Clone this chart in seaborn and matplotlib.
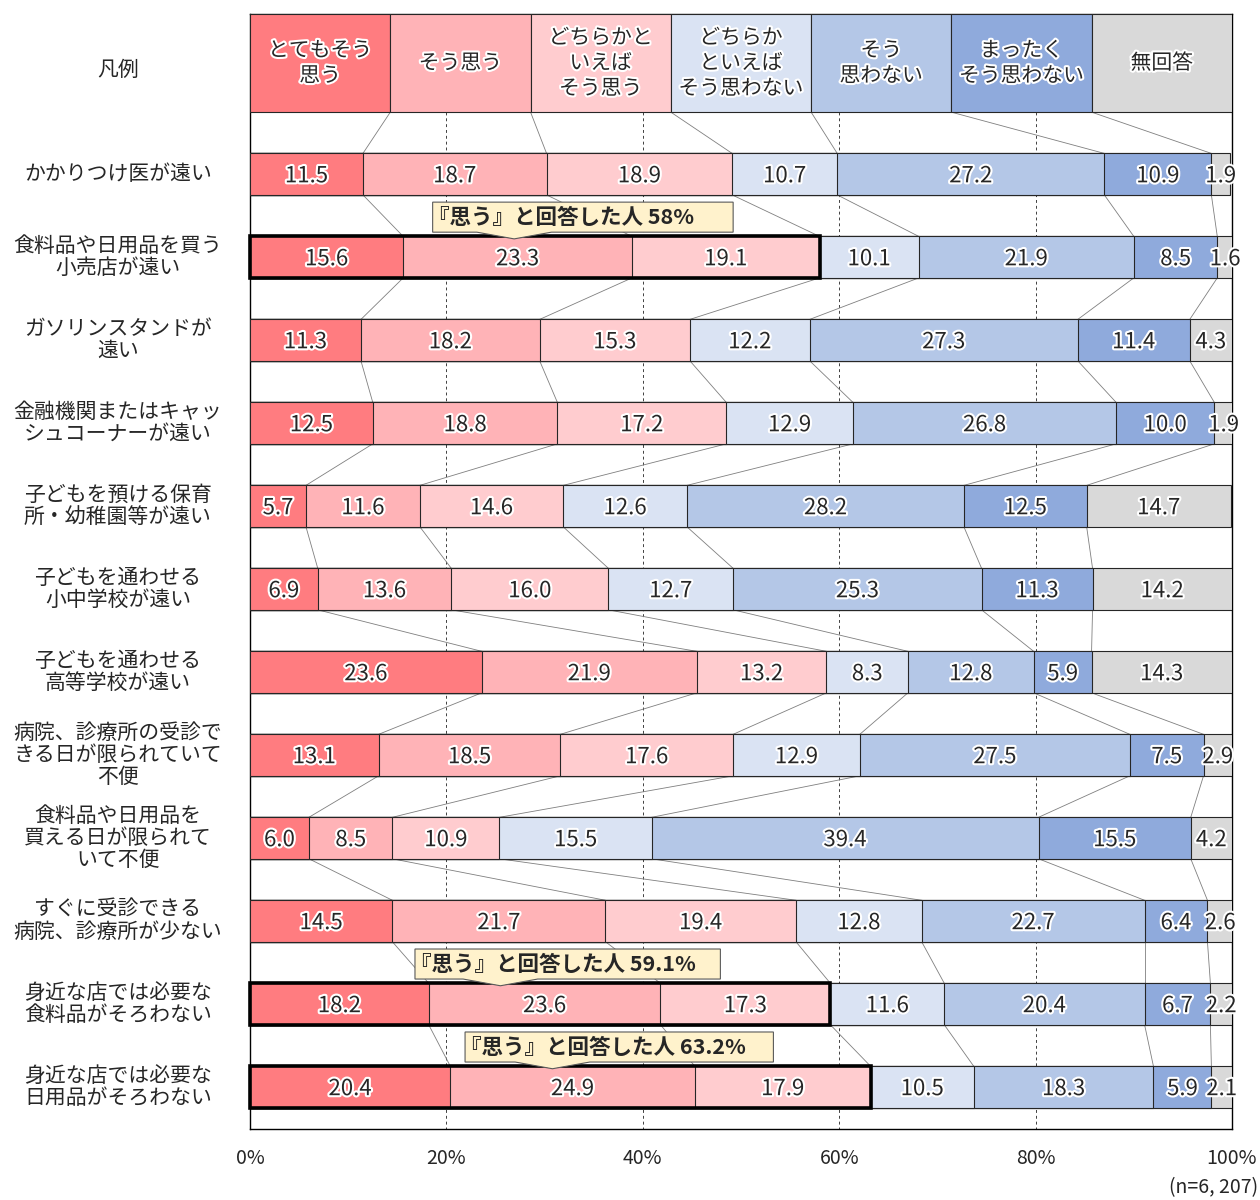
import numpy as np
import matplotlib
matplotlib.use("Agg")
import matplotlib.pyplot as plt
import matplotlib.patheffects as pe
import matplotlib.transforms as mtransforms
from matplotlib.patches import Rectangle, Polygon
import seaborn as sns

# ---- data -------------------------------------------------------------
items = [
    "かかりつけ医が遠い",
    "食料品や日用品を買う\n小売店が遠い",
    "ガソリンスタンドが\n遠い",
    "金融機関またはキャッ\nシュコーナーが遠い",
    "子どもを預ける保育\n所・幼稚園等が遠い",
    "子どもを通わせる\n小中学校が遠い",
    "子どもを通わせる\n高等学校が遠い",
    "病院、診療所の受診で\nきる日が限られていて\n不便",
    "食料品や日用品を\n買える日が限られて\nいて不便",
    "すぐに受診できる\n病院、診療所が少ない",
    "身近な店では必要な\n食料品がそろわない",
    "身近な店では必要な\n日用品がそろわない",
]
responses = [
    "とてもそう\n思う",
    "そう思う",
    "どちらかと\nいえば\nそう思う",
    "どちらか\nといえば\nそう思わない",
    "そう\n思わない",
    "まったく\nそう思わない",
    "無回答",
]
very_agree        = [11.5, 15.6, 11.3, 12.5, 5.7, 6.9, 23.6, 13.1, 6.0, 14.5, 18.2, 20.4]
agree             = [18.7, 23.3, 18.2, 18.8, 11.6, 13.6, 21.9, 18.5, 8.5, 21.7, 23.6, 24.9]
somewhat_agree    = [18.9, 19.1, 15.3, 17.2, 14.6, 16.0, 13.2, 17.6, 10.9, 19.4, 17.3, 17.9]
somewhat_disagree = [10.7, 10.1, 12.2, 12.9, 12.6, 12.7, 8.3, 12.9, 15.5, 12.8, 11.6, 10.5]
disagree          = [27.2, 21.9, 27.3, 26.8, 28.2, 25.3, 12.8, 27.5, 39.4, 22.7, 20.4, 18.3]
strongly_disagree = [10.9, 8.5, 11.4, 10.0, 12.5, 11.3, 5.9, 7.5, 15.5, 6.4, 6.7, 5.9]
no_answer         = [1.9, 1.6, 4.3, 1.9, 14.7, 14.2, 14.3, 2.9, 4.2, 2.6, 2.2, 2.1]

highlight_rows = [1, 10, 11]
highlight_totals = [58, 59.1, 63.2]

x_ticks = [0, 20, 40, 60, 80, 100]
x_tick_labels = ["0%", "20%", "40%", "60%", "80%", "100%"]
legend_title = "凡例"
sample_note = "(n=6, 207)"

colors = ["#FF7C80", "#FFB3B7", "#FFCCCF", "#DAE3F3", "#B4C7E7", "#8FAADC", "#D9D9D9"]

# ---- figure -----------------------------------------------------------
sns.set_theme(style="white")
plt.rcParams["font.family"] = ["Noto Sans CJK JP", "DejaVu Sans"]

W, H = 1260, 1200
fig = plt.figure(figsize=(W / 100, H / 100), dpi=100)
ax = fig.add_axes([250 / W, 1 - 1129 / H, (1232 - 250) / W, (1129 - 14) / H])

series = [very_agree, agree, somewhat_agree, somewhat_disagree,
          disagree, strongly_disagree, no_answer]
vals = np.array(series)
cum = np.cumsum(vals, axis=0)
starts = cum - vals

edge = "#262626"
# stacked bars: draw cumulative totals from the longest down
for k in range(len(series) - 1, -1, -1):
    sns.barplot(x=cum[k], y=items, orient="y", color=colors[k], saturation=1,
                width=0.5, edgecolor=edge, linewidth=0.8, ax=ax, zorder=3)

y_top, y_bot = -1.93, 11.506
leg_bottom = -0.747
leg_center = (y_top + leg_bottom) / 2
ax.set_xlim(0, 100)
ax.set_ylim(y_bot, y_top)

stroke = [pe.withStroke(linewidth=3, foreground="white")]

# legend row across the top of the plot
cell = 100 / len(responses)
for i, (lab, col) in enumerate(zip(responses, colors)):
    ax.add_patch(Rectangle((i * cell, y_top), cell, leg_bottom - y_top,
                           facecolor=col, edgecolor=edge, lw=0.8, zorder=3))
    ax.text((i + 0.5) * cell, leg_center, lab, ha="center", va="center",
            fontsize=15, linespacing=1.2, zorder=5, path_effects=stroke)

# dashed gridlines
ax.vlines([20, 40, 60, 80], leg_bottom, y_bot, colors="#404040",
          linestyles=(0, (3, 3)), lw=0.7, zorder=1)

# connector lines between segment boundaries of neighbouring rows
prev_x = [i * cell for i in range(1, len(responses))]
prev_y = leg_bottom
for r in range(len(items)):
    xs = cum[:-1, r]
    for x0, x1 in zip(prev_x, xs):
        ax.plot([x0, x1], [prev_y, r - 0.25], color="#7f7f7f", lw=0.6, zorder=2)
    prev_x, prev_y = xs, r + 0.25

# value labels
for k in range(len(series)):
    for r in range(len(items)):
        ax.text(starts[k, r] + vals[k, r] / 2, r + 0.02, f"{vals[k, r]:.1f}",
                ha="center", va="center", fontsize=16, zorder=5,
                path_effects=stroke, clip_on=False)

# highlighted rows with callouts
callout_layout = [(18.6, 49.2, 26.9), (16.8, 47.9, 25.5), (21.9, 53.3, 30.8)]
for r, tot, (bx0, bx1, tip) in zip(highlight_rows, highlight_totals, callout_layout):
    ax.add_patch(Rectangle((0, r - 0.25), tot, 0.5, fill=False,
                           edgecolor="black", lw=2.6, zorder=6, clip_on=False))
    top, bot, tip_y = r - 0.663, r - 0.301, r - 0.22
    poly = [(bx0, top), (bx1, top), (bx1, bot), (tip + 3.8, bot), (tip, tip_y),
            (tip - 3.8, bot), (bx0, bot)]
    ax.add_patch(Polygon(poly, closed=True, facecolor="#FFF2CC",
                         edgecolor="#595959", lw=0.8, zorder=7))
    ax.text(bx0 - 0.5, (top + bot) / 2, f"『思う』と回答した人 {tot:g}%",
            ha="left", va="center", fontsize=15.5, fontweight="bold", zorder=8)

# category labels on the left
trans = mtransforms.blended_transform_factory(fig.transFigure, ax.transData)
ax.set_yticks([])
for r, lab in enumerate(items):
    ax.text(118 / W, r, lab, transform=trans, ha="center", va="center",
            fontsize=15, linespacing=1.0, clip_on=False)
ax.text(118 / W, leg_center + 0.08, legend_title, transform=trans,
        ha="center", va="center", fontsize=15, clip_on=False)

ax.set_xticks(x_ticks)
ax.set_xticklabels(x_tick_labels, fontsize=14)
ax.tick_params(axis="x", length=0, pad=14)
ax.set_xlabel("")
ax.set_ylabel("")
for s in ax.spines.values():
    s.set_color("black")
    s.set_linewidth(1.0)

fig.text(1258 / W, 1 - 1188 / H, sample_note, ha="right", va="center", fontsize=14)

fig.savefig("out.png", dpi=100)
